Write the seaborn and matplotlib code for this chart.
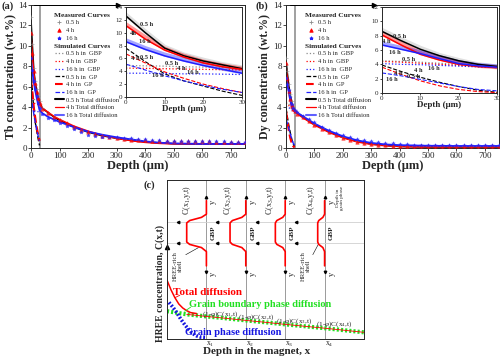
import numpy as np
import pandas as pd
import seaborn as sns
import matplotlib.pyplot as plt
from matplotlib.lines import Line2D

# ---- data ----
sim_depth = [0, 5, 10, 15, 20, 25, 30, 40, 60, 80, 100, 150, 200, 250, 300, 350, 400, 450, 500, 600, 750]
near_depth = [0, 5, 10, 15, 20, 25, 30]
meas_depth = [0, 5, 10, 15, 20, 25, 30, 40, 60, 80, 100, 125, 150, 175, 200, 225, 250, 275, 300,
              325, 350, 375, 400, 425, 450, 475, 500, 525, 550, 575, 600, 625, 650, 675, 700, 725, 750]

tb_total_05 = [12.6, 10.0, 7.6, 6.4, 5.6, 5.0, 4.4, 3.9, 3.45, 3.05, 2.7, 2.05, 1.55, 1.2, 0.95, 0.75, 0.6, 0.5, 0.42, 0.38, 0.38]
tb_total_4 = [11.1, 9.0, 7.3, 6.2, 5.3, 4.7, 4.3, 3.9, 3.5, 3.1, 2.8, 2.15, 1.65, 1.25, 0.95, 0.72, 0.55, 0.45, 0.4, 0.38, 0.38]
tb_total_16 = [8.6, 7.4, 6.4, 5.6, 4.9, 4.3, 3.7, 3.4, 3.05, 2.8, 2.55, 2.05, 1.6, 1.3, 1.05, 0.85, 0.65, 0.52, 0.45, 0.4, 0.4]
tb_gp_05 = [7.6, 5.5, 3.6, 2.5, 1.7, 0.9, 0.25]
tb_gp_4 = [6.7, 5.3, 3.9, 2.9, 2.0, 1.3, 0.7]
tb_gp_16 = [5.1, 4.2, 3.3, 2.5, 1.8, 1.2, 0.7]
tb_gbp_05 = [4.9, 4.85, 4.8, 4.7, 4.65, 4.6, 4.5]
tb_gbp_4 = [4.5, 4.45, 4.4, 4.35, 4.3, 4.25, 4.2]
tb_gbp_16 = [3.7, 3.7, 3.65, 3.6, 3.6, 3.55, 3.5]
tb_meas_05 = [12.8, 10.2, 7.8, 6.6, 5.8, 5.1, 4.6, 3.9, 3.4, 3.0, 2.7, 2.35, 2.0, 1.75, 1.5, 1.3, 1.15, 1.05, 0.95,
              0.9, 0.85, 0.8, 0.75, 0.72, 0.7, 0.68, 0.66, 0.65, 0.64, 0.63, 0.62, 0.62, 0.61, 0.6, 0.6, 0.6, 0.6]
tb_meas_4 = [11.3, 9.3, 7.5, 6.4, 5.5, 4.9, 4.4, 3.85, 3.4, 3.05, 2.75, 2.4, 2.1, 1.8, 1.55, 1.35, 1.2, 1.05, 0.95,
             0.88, 0.82, 0.78, 0.74, 0.72, 0.7, 0.68, 0.67, 0.66, 0.65, 0.65, 0.64, 0.64, 0.63, 0.63, 0.62, 0.62, 0.62]
tb_meas_16 = [8.8, 7.6, 6.6, 5.8, 5.1, 4.4, 3.9, 3.3, 2.95, 2.7, 2.45, 2.15, 1.85, 1.55, 1.3, 1.15, 1.05, 1.05, 1.05,
              1.0, 0.95, 0.9, 0.85, 0.8, 0.75, 0.72, 0.7, 0.68, 0.67, 0.66, 0.65, 0.65, 0.64, 0.64, 0.63, 0.63, 0.63]

dy_total_05 = [8.6, 7.3, 6.1, 5.2, 4.5, 4.0, 3.7, 3.45, 3.05, 2.65, 2.3, 1.6, 1.05, 0.65, 0.4, 0.25, 0.15, 0.12, 0.1, 0.1, 0.1]
dy_total_4 = [8.1, 6.7, 5.4, 4.6, 4.0, 3.7, 3.55, 3.35, 2.95, 2.6, 2.25, 1.55, 1.0, 0.6, 0.35, 0.22, 0.15, 0.12, 0.12, 0.12, 0.12]
dy_total_16 = [6.7, 6.1, 5.5, 4.8, 4.1, 3.8, 3.6, 3.45, 3.1, 2.75, 2.4, 1.7, 1.15, 0.75, 0.5, 0.35, 0.28, 0.25, 0.22, 0.2, 0.2]
dy_gp_05 = [3.9, 3.0, 2.2, 1.5, 0.9, 0.4, 0.1]
dy_gp_4 = [3.6, 2.6, 1.7, 1.0, 0.5, 0.2, 0.05]
dy_gp_16 = [2.8, 2.4, 1.9, 1.4, 0.9, 0.5, 0.3]
dy_gbp_05 = [4.5, 4.4, 4.3, 4.15, 4.0, 3.85, 3.7]
dy_gbp_4 = [4.4, 4.3, 4.15, 4.0, 3.85, 3.7, 3.6]
dy_gbp_16 = [4.1, 4.0, 3.95, 3.85, 3.75, 3.65, 3.55]
dy_meas_05 = [8.8, 7.5, 6.3, 5.3, 4.6, 4.0, 3.7, 3.4, 3.05, 2.7, 2.35, 1.95, 1.6, 1.3, 1.05, 0.85, 0.65, 0.5, 0.4,
              0.32, 0.27, 0.22, 0.2, 0.18, 0.17, 0.16, 0.15, 0.15, 0.15, 0.15, 0.15, 0.15, 0.15, 0.15, 0.15, 0.15, 0.15]
dy_meas_4 = [8.3, 6.9, 5.6, 4.8, 4.2, 3.8, 3.6, 3.35, 3.0, 2.65, 2.3, 1.9, 1.55, 1.25, 1.0, 0.8, 0.62, 0.48, 0.38,
             0.3, 0.25, 0.2, 0.18, 0.17, 0.16, 0.15, 0.15, 0.15, 0.15, 0.15, 0.15, 0.15, 0.15, 0.15, 0.15, 0.15, 0.15]
dy_meas_16 = [6.9, 6.3, 5.7, 5.0, 4.3, 3.9, 3.7, 3.5, 3.15, 2.8, 2.5, 2.1, 1.8, 1.5, 1.25, 1.05, 0.9, 0.75, 0.65,
              0.55, 0.5, 0.45, 0.4, 0.35, 0.32, 0.3, 0.28, 0.27, 0.26, 0.25, 0.25, 0.25, 0.25, 0.25, 0.25, 0.25, 0.25]

times = ["0.5 h", "4 h", "16 h"]
inset_labels_tb = [("0.5 h", 5.3, 11.2), ("4h", 1.9, 9.9), ("16 h", 4.9, 8.6), ("4 h", 2.3, 6.0),
                   ("0.5 h", 5.3, 6.2), ("0.5 h", 11.8, 5.2), ("4 h", 14.4, 4.5), ("16 h", 17.2, 3.8),
                   ("16 h", 8.1, 3.3)]
inset_labels_dy = [("0.5 h", 4.7, 7.95), ("4 h", 1.2, 7.2), ("16 h", 3.4, 5.6), ("0.5 h", 6.9, 4.7),
                   ("4 h", 9.5, 3.2), ("16 h", 13.4, 3.4), ("4 h", 4.3, 2.75), ("16 h", 2.5, 1.9),
                   ("0.5 h", 8.2, 2.3)]

# schematic (c)
c_ticks = [2, 4, 6, 8]
c_tick_labels = [r"x$_1$", r"x$_2$", r"x$_3$", r"x$_4$"]
gbd_x = [0, 1, 2, 3, 4, 5, 6, 7, 8, 9, 10]
gbd_y = [1.75, 1.55, 1.42, 1.3, 1.17, 1.05, 0.92, 0.8, 0.68, 0.55, 0.42]
tot_x = [0, 0.2, 0.4, 0.6, 0.8, 1.0, 1.2, 1.5]
tot_y = [3.7, 3.1, 2.6, 2.2, 1.95, 1.78, 1.66, 1.6]
gpd_x = [0.1, 0.3, 0.5, 0.7, 0.9, 1.1, 1.3, 1.5, 1.7, 2.0]
gpd_y = [2.3, 2.0, 1.65, 1.25, 0.9, 0.6, 0.35, 0.2, 0.12, 0.1]
prof_dx = [0, 0, -0.25, -0.85, -1.0, -1.0, -0.85, -0.25, 0, 0]
prof_y = [4.6, 5.5, 5.75, 5.95, 6.1, 7.3, 7.45, 7.65, 7.85, 8.7]
prof_width = [1.0, 0.8, 0.5, 0.35]
phi_labels = [r"(1-$\varphi$)C(x$_1$,t)", r"(1-$\varphi$)C(x$_2$,t)", r"(1-$\varphi$)C(x$_3$,t)", r"(1-$\varphi$)C(x$_4$,t)"]
phi_pos = [(2.69, 1.57), (4.52, 1.38), (6.45, 1.13), (8.48, 0.94)]
gbp_band = [6.04, 7.36]

# ---- style ----
sns.set_theme(style="ticks")
plt.rcParams['font.family'] = ['Liberation Serif', 'DejaVu Serif']
plt.rcParams['mathtext.fontset'] = 'custom'
plt.rcParams['mathtext.rm'] = 'Liberation Serif'
plt.rcParams['mathtext.it'] = 'Liberation Serif:italic'
plt.rcParams['axes.linewidth'] = 0.7
plt.rcParams['xtick.major.width'] = 0.6
plt.rcParams['ytick.major.width'] = 0.6

GRAY, BLACK, RED, BLUE = "#8c8c8c", "#000000", "#ff0000", "#2020ff"
GREEN, DBLUE = "#22e022", "#1515e0"
col_meas = [GRAY, RED, BLUE]
col_sim = [BLACK, RED, BLUE]
markers = ["+", "^", "*"]

W, H = 500, 358
fig = plt.figure(figsize=(W / 100, H / 100), dpi=100)
headers = []


def px_axes(l, t, r, b):
    return fig.add_axes([l / W, 1 - b / H, (r - l) / W, (b - t) / H])


def line(ax, x, y, color, ls="-", lw=1.0, alpha=1.0):
    sns.lineplot(x=x, y=y, ax=ax, color=color, linestyle=ls, linewidth=lw, alpha=alpha,
                 estimator=None, sort=False)


def main_panel(rect, inset_rect, meas, total, gp, gbp, ylabel, tag, tagx, ylim_in, in_labels, leg_x, arrow):
    ax = px_axes(*rect)
    for i in range(3):
        sns.scatterplot(x=meas_depth, y=meas[i], ax=ax, marker=markers[i], color=col_meas[i],
                        s=6, linewidth=0.5, edgecolor=col_meas[i], alpha=0.7, zorder=3)
    for i in range(3):
        line(ax, near_depth, gbp[i], col_sim[i] if i else GRAY, ":", 0.9)
        line(ax, near_depth, gp[i], col_sim[i], "--", 1.0 if i != 1 else 1.6)
    for i in range(3):
        line(ax, sim_depth, total[i], col_sim[i], "-", 1.1 if i != 2 else 1.3)
    ax.axvline(30, color="#a0a0a0", lw=1.4, zorder=1)
    ax.set_xlim(0, 750)
    ax.set_ylim(0, 14)
    ax.set_xticks(range(0, 701, 100))
    ax.set_yticks(range(0, 15, 2))
    ax.tick_params(labelsize=6.5, length=2, pad=1)
    ax.set_xlabel("Depth (μm)", fontsize=9, fontweight="bold", labelpad=0)
    ax.set_ylabel(ylabel, fontsize=8.5, fontweight="bold", labelpad=1)

    handles, labels = [], []
    handles.append(Line2D([], [], ls="none")); labels.append("Measured Curves")
    for i in range(3):
        handles.append(Line2D([], [], ls="none", marker=markers[i], color=col_meas[i], ms=2.5, mew=0.6))
        labels.append(times[i])
    handles.append(Line2D([], [], ls="none")); labels.append("Simulated Curves")
    for i in range(3):
        handles.append(Line2D([], [], ls=":", color=col_sim[i] if i else GRAY, lw=0.9))
        labels.append(f"{times[i]} in  GBP")
    for i in range(3):
        handles.append(Line2D([], [], ls="--", color=col_sim[i], lw=0.9 if i != 1 else 1.5))
        labels.append(f"{times[i]} in  GP")
    for i in range(3):
        handles.append(Line2D([], [], ls="-", color=col_sim[i] if i != 2 else "#6060ff",
                              lw=1.5 if i != 1 else 0.9))
        labels.append(f"{times[i]} Total diffusion")
    leg = ax.legend(handles, labels, loc="upper left", bbox_to_anchor=(leg_x, 0.95), frameon=False,
                    fontsize=4.7, labelspacing=0.33, handlelength=1.5, handletextpad=0.3,
                    borderpad=0, borderaxespad=0)
    for t in leg.get_texts():
        if t.get_text().endswith("Curves"):
            headers.append((leg, t))

    ins = px_axes(*inset_rect)
    for i in range(3):
        line(ins, near_depth, meas[i][:7], col_meas[i] if i else "#b0b0b0", "-", 3.0, 0.4)
    for i in range(3):
        line(ins, near_depth, gbp[i], col_sim[i] if i else GRAY, ":", 0.9)
        line(ins, near_depth, gp[i], col_sim[i], "--", 0.8)
    for i in range(3):
        line(ins, near_depth, total[i][:7], col_sim[i], "-", 1.1)
    ins.set_xlim(0, 30)
    ins.set_ylim(0, ylim_in)
    ins.set_xticks([0, 10, 20, 30])
    ins.set_yticks(range(0, ylim_in + 1, 2))
    ins.tick_params(labelsize=5, length=1.5, pad=1)
    ins.set_xlabel("Depth (μm)", fontsize=6.5, fontweight="bold", labelpad=0)
    ins.set_ylabel("")
    for txt, x, y in in_labels:
        ins.text(x, y, txt, fontsize=4.6, fontweight="bold", ha="center", va="center")

    fig.text(tagx / W, 1 - 6 / H, tag, fontsize=7.5, fontweight="bold", ha="left", va="center")
    fig.add_artist(Line2D([arrow[0] / W, arrow[1] / W], [1 - 5 / H, 1 - 5 / H],
                          color="black", lw=0.7))
    fig.add_artist(Line2D([arrow[1] / W], [1 - 5 / H], marker=">", ms=3, color="black", ls="none"))
    return ax


main_panel((31, 5, 245, 148), (126, 7, 242, 97),
           [tb_meas_05, tb_meas_4, tb_meas_16], [tb_total_05, tb_total_4, tb_total_16],
           [tb_gp_05, tb_gp_4, tb_gp_16], [tb_gbp_05, tb_gbp_4, tb_gbp_16],
           "Tb concentration (wt.%)", "(a)", 1, 14, inset_labels_tb, 0.11, (34, 118))
main_panel((286, 5, 499, 148), (382, 7, 497, 93),
           [dy_meas_05, dy_meas_4, dy_meas_16], [dy_total_05, dy_total_4, dy_total_16],
           [dy_gp_05, dy_gp_4, dy_gp_16], [dy_gbp_05, dy_gbp_4, dy_gbp_16],
           "Dy concentration (wt.%)", "(b)", 256, 12, inset_labels_dy, 0.095, (290, 374))

# ---- panel (c): schematic ----
axc = px_axes(167, 180, 364, 339)
axc.set_xlim(0, 10)
axc.set_ylim(0, 10)
for xi in c_ticks:
    axc.axvline(xi, color="#9a9a9a", lw=0.7, zorder=1)
for yb in gbp_band:
    axc.axhline(yb, color="#d0d0d0", lw=0.6, zorder=1)
for k, xi in enumerate(c_ticks):
    px = [xi + d * prof_width[k] for d in prof_dx]
    axc.plot(px, prof_y, color=RED, lw=1.2, zorder=3)
    axc.plot([xi - 1.45, xi - 1.45], gbp_band, ls="none", marker="<", ms=1.8, color="black")
    axc.plot([xi], [4.2], marker="v", ms=1.8, color="black")
    axc.plot([xi], [8.9], marker="^", ms=1.8, color="black")
    axc.text(xi - 0.5 - prof_width[k] * 0.5, 8.7, c_tick_labels[k].replace("x", "C(x") + ",y,t)",
             rotation=90, fontsize=5.8, ha="center", va="center")
    axc.text(xi + 0.35, 6.7, "GBP", rotation=90, fontsize=5, fontweight="bold", ha="center", va="center")
    axc.text(xi + 0.35, 8.6, "y", rotation=90, fontsize=6, ha="center", va="center")
    axc.text(xi + 0.35, 4.1, "y", rotation=90, fontsize=6, ha="center", va="center")
axc.text(0.56, 4.6, "HREE-rich\nshell", rotation=90, fontsize=4.8, ha="center", va="center", linespacing=1.0)
axc.plot([0.95, 1.6], [5.3, 5.75], color="black", lw=0.4)
axc.text(7.05, 4.6, "HREE-rich\nshell", rotation=90, fontsize=4.8, ha="center", va="center", linespacing=1.0)
axc.plot([7.4, 7.7], [5.3, 6.0], color="black", lw=0.4)
axc.text(8.8, 8.9, "Depth in\ngrain phase", rotation=90, fontsize=3.8, ha="center", va="center",
         linespacing=1.0)

sns.lineplot(x=gbd_x, y=gbd_y, ax=axc, color=GREEN, linestyle=(0, (0.5, 0.5)), linewidth=3.0,
             sort=False, estimator=None)
sns.lineplot(x=gbd_x[1:], y=gbd_y[1:], ax=axc, color=RED, linewidth=0.6, sort=False, estimator=None)
sns.lineplot(x=tot_x, y=tot_y, ax=axc, color=RED, linewidth=1.1, sort=False, estimator=None)
sns.lineplot(x=gpd_x, y=gpd_y, ax=axc, color=DBLUE, linestyle=(0, (0.5, 0.5)), linewidth=2.6,
             sort=False, estimator=None)
axc.text(2.08, 2.9, "Total diffusion", color=RED, fontsize=8, fontweight="bold", ha="center", va="center")
axc.plot([0.65, 0.4], [2.75, 2.6], color=RED, lw=0.6)
axc.text(4.72, 2.2, "Grain boundary phase diffusion", color=GREEN, fontsize=7.5, fontweight="bold",
         ha="center", va="center")
axc.plot([1.2, 0.9], [2.0, 1.75], color=GREEN, lw=0.6)
axc.text(3.35, 0.44, "Grain phase diffusion", color=DBLUE, fontsize=7.5, fontweight="bold",
         ha="center", va="center")
for lab, (x, y) in zip(phi_labels, phi_pos):
    axc.text(x, y, lab, fontsize=5.2, ha="center", va="center")
axc.plot([0], [5.8], marker="^", ms=3, color="black", clip_on=False)
axc.set_xticks(c_ticks)
axc.set_xticklabels(c_tick_labels)
axc.set_yticks([])
axc.tick_params(axis="x", labelsize=5.5, length=2, pad=0.5, direction="in")
for lab in axc.get_xticklabels():
    lab.set_horizontalalignment("left")
axc.set_xlabel("")
axc.set_ylabel("")
fig.text(257 / W, 1 - 352 / H, "Depth in the magnet, x", fontsize=8, fontweight="bold", ha="center", va="center")
fig.text(160 / W, 1 - 283 / H, "HREE concentration, C(x,t)", fontsize=7, fontweight="bold",
         rotation=90, ha="center", va="center")
fig.text(144 / W, 1 - 185 / H, "(c)", fontsize=7.5, fontweight="bold", ha="left", va="center")

# legend group headers: flush with the handle column, bold
fig.canvas.draw()
for leg, t in headers:
    tb = t.get_window_extent()
    lb = leg.get_window_extent()
    label = t.get_text()
    t.set_text("")
    fig.text((lb.x0 - 1) / W, (tb.y0 + tb.y1) / 2 / H, label, fontsize=5.3, fontweight="bold",
             ha="left", va="center")

fig.savefig("out.png", dpi=100)
